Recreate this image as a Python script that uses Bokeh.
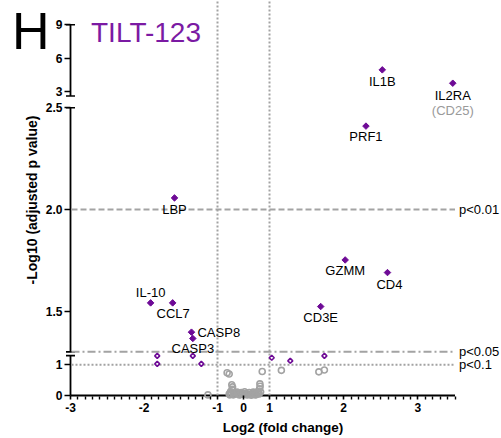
import numpy as np
from bokeh.plotting import figure
from bokeh.models import Range1d, FixedTicker, Label, Div
from bokeh.embed import file_html
from bokeh.resources import INLINE
from bokeh.core.properties import value

# ---------------- data ----------------
sig_genes = ["IL1B", "IL2RA", "PRF1", "LBP", "GZMM", "CD4", "CD3E",
             "IL-10", "CCL7", "CASP8", "CASP3"]
sig_log2fc = [2.52, 3.47, 2.30, -1.585, 2.02, 2.59, 1.69, -1.91, -1.61, -1.354, -1.336]
sig_neglog10p = [4.95, 3.75, 2.41, 2.057, 1.752, 1.69, 1.523, 1.541, 1.541, 1.397, 1.366]
il2ra_alias = "(CD25)"

trend_log2fc = [-1.82, -1.82, -1.336, -1.22, 1.03, 1.28, 1.74]
trend_neglog10p = [1.29, 1.03, 1.29, 1.03, 1.23, 1.13, 1.29]

ns_log2fc = [-1.13, -0.63, -0.55, 0.72, 1.16, 1.665, 1.74,
             -0.55, -0.50, -0.45, -0.42, -0.40, -0.35, -0.28, -0.20, -0.12, -0.05,
             0.02, 0.10, 0.18, 0.26, 0.34, 0.42, 0.50, 0.58, 0.62, 0.63, 0.66,
             -0.52, -0.47, -0.38, -0.32, -0.25, -0.16, -0.08, 0.05, 0.14, 0.22,
             0.30, 0.38, 0.46, 0.54, 0.60, -0.44, 0.64]
ns_neglog10p = [0.02, 0.74, 0.70, 0.78, 0.82, 0.77, 0.83,
                0.05, 0.12, 0.35, 0.28, 0.10, 0.04, 0.08, 0.05, 0.03, 0.06,
                0.04, 0.07, 0.03, 0.05, 0.04, 0.06, 0.03, 0.09, 0.22, 0.38, 0.12,
                0.02, 0.06, 0.02, 0.09, 0.11, 0.02, 0.10, 0.12, 0.02, 0.10,
                0.01, 0.11, 0.02, 0.12, 0.05, 0.20, 0.30]

p_thresholds = [2.0, 1.301, 1.0]
p_threshold_labels = ["p<0.01", "p<0.05", "p<0.1"]
fc_cutoffs = [-1.0, 1.0]

x_ticks = [-3, -2, -1, 0, 1, 2, 3]
x_tick_labels = ["-3", "-2", "-1", "0", "1", "2", "3"]
y_ticks = [0, 1, 1.5, 2.0, 2.5, 3, 6, 9]
y_tick_labels = ["0", "1", "1.5", "2.0", "2.5", "3", "6", "9"]

panel_letter = "H"
title_text = "TILT-123"
x_title = "Log2 (fold change)"
y_title = "-Log10 (adjusted p value)"

# ---------------- segmented axes (layout, page pixels) ----------------
X_KNOTS = [-3.0, -1.0, 1.0, 3.5]
X_PIX = [70.0, 217.0, 269.0, 454.5]
# (value lo, value hi, pixel at lo, pixel at hi) -- pixels measured downwards
Y_SEGS = [(0.0, 1.3, 395.0, 355.1), (1.3, 2.5, 351.4, 107.3), (2.6, 9.0, 95.5, 24.3)]

W, H = 501, 438
FRAME_L, FRAME_B = 64, 399

PURPLE = "#6E0A96"
TITLE_PURPLE = "#7B1AA3"
GRAY = "#a3a3a3"
FONT = "Liberation Sans"


def xv(v):
    v = np.atleast_1d(np.asarray(v, float))
    out = np.interp(v, X_KNOTS, X_PIX)
    sl_lo = (X_PIX[1] - X_PIX[0]) / (X_KNOTS[1] - X_KNOTS[0])
    sl_hi = (X_PIX[-1] - X_PIX[-2]) / (X_KNOTS[-1] - X_KNOTS[-2])
    out = np.where(v < X_KNOTS[0], X_PIX[0] + (v - X_KNOTS[0]) * sl_lo, out)
    out = np.where(v > X_KNOTS[-1], X_PIX[-1] + (v - X_KNOTS[-1]) * sl_hi, out)
    return [float(a) for a in out]


def seg_pix(v, seg):
    lo, hi, plo, phi = seg
    return plo + (v - lo) * (phi - plo) / (hi - lo)


def pick_seg(v):
    if v <= Y_SEGS[0][1]:
        return Y_SEGS[0]
    if v <= (Y_SEGS[1][1] + Y_SEGS[2][0]) / 2:
        return Y_SEGS[1]
    return Y_SEGS[2]


def yv(v):
    arr = np.atleast_1d(np.asarray(v, float))
    return [float(-seg_pix(a, pick_seg(a))) for a in arr]


p = figure(width=W, height=H, x_range=Range1d(FRAME_L, W), y_range=Range1d(-FRAME_B, 0),
           min_border_left=FRAME_L, min_border_right=0, min_border_top=0,
           min_border_bottom=H - FRAME_B, output_backend="svg", toolbar_location=None)
p.outline_line_color = None
p.xgrid.visible = False
p.ygrid.visible = False

# ---- real axes: ticks, tick labels, titles ----
minor = [round(v, 2) for v in np.arange(-2.9, -1.0, 0.1)] + [round(v, 2) for v in np.arange(1.1, 3.51, 0.1)]
minor = [m for m in minor if abs(m - round(m)) > 1e-6]
xt = xv(x_ticks)
p.xaxis.ticker = FixedTicker(ticks=xt, minor_ticks=xv(minor))
p.xaxis.major_label_overrides = {t: lab for t, lab in zip(xt, x_tick_labels)}
p.xaxis.bounds = (xv(-3)[0], xv(3.5)[0])
p.xaxis.axis_line_color = None
p.xaxis.major_tick_in = 4
p.xaxis.major_tick_out = 0
p.xaxis.minor_tick_in = 3
p.xaxis.minor_tick_out = 0
p.xaxis.major_tick_line_width = 1.6
p.xaxis.minor_tick_line_width = 1.4
p.xaxis.major_label_standoff = 3
p.xaxis.major_label_text_font = FONT
p.xaxis.major_label_text_font_style = "bold"
p.xaxis.major_label_text_font_size = "12px"
p.xaxis.major_label_text_color = "black"
p.xaxis.axis_label = x_title
p.xaxis.axis_label_text_font = FONT
p.xaxis.axis_label_text_font_style = "bold"
p.xaxis.axis_label_text_font_size = "13.5px"
p.xaxis.axis_label_text_color = "black"
p.xaxis.axis_label_standoff = 5

yt = yv(y_ticks)
p.yaxis.ticker = FixedTicker(ticks=yt, minor_ticks=[])
p.yaxis.major_label_overrides = {t: lab for t, lab in zip(yt, y_tick_labels)}
p.yaxis.bounds = (yv(0)[0], yv(9)[0])
p.yaxis.axis_line_color = None
p.yaxis.major_tick_in = 6
p.yaxis.major_tick_out = 0
p.yaxis.minor_tick_line_color = None
p.yaxis.major_tick_line_width = 1.6
p.yaxis.major_label_standoff = 2
p.yaxis.major_label_text_font = FONT
p.yaxis.major_label_text_font_style = "bold"
p.yaxis.major_label_text_font_size = "12px"
p.yaxis.major_label_text_color = "black"
p.yaxis.axis_label = y_title
p.yaxis.axis_label_text_font = FONT
p.yaxis.axis_label_text_font_style = "bold"
p.yaxis.axis_label_text_font_size = "14px"
p.yaxis.axis_label_text_color = "black"
p.yaxis.axis_label_standoff = 3

# ---- axis lines (segmented, Prism style) ----
ax_x = xv(-3)[0]
for seg in Y_SEGS:
    lo, hi = seg[0], seg[1]
    p.segment(x0=ax_x, y0=-seg_pix(lo, seg), x1=ax_x, y1=-seg_pix(hi, seg),
              line_color="black", line_width=1.8)
caps = [-seg_pix(Y_SEGS[0][1], Y_SEGS[0]), -seg_pix(Y_SEGS[1][0], Y_SEGS[1]),
        -seg_pix(Y_SEGS[1][1], Y_SEGS[1]), -seg_pix(Y_SEGS[2][0], Y_SEGS[2]),
        -seg_pix(Y_SEGS[2][1], Y_SEGS[2])]
p.scatter(x=[ax_x] * len(caps), y=caps, marker="dash", size=9, line_color="black", line_width=1.6)
p.segment(x0=xv(-3)[0], y0=yv(0)[0], x1=xv(3.5)[0], y1=yv(0)[0], line_color="black", line_width=1.8)

# ---- reference lines ----
dashes = ["6 3", "8 3 2 3", "2 2"]
for th, d in zip(p_thresholds, dashes):
    y0 = yv(th)[0]
    p.segment(x0=xv(-3)[0] + 1, y0=y0, x1=xv(3.5)[0], y1=y0, line_color=GRAY,
              line_width=2, line_dash=d)
p.text(x=[xv(3.5)[0] + 4] * 3, y=yv(p_thresholds), text=p_threshold_labels,
       text_font=value(FONT), text_font_size="13px", text_align="left",
       text_baseline="middle", text_color="black")
for c in fc_cutoffs:
    p.segment(x0=xv(c)[0], y0=yv(0)[0], x1=xv(c)[0], y1=p.y_range.end, line_color=GRAY,
              line_width=2, line_dash="2 2")

# ---- points ----
p.scatter(x=xv(ns_log2fc), y=yv(ns_neglog10p), marker="circle", size=6, fill_alpha=0,
          line_color=GRAY, line_width=1.6)
p.scatter(x=xv(trend_log2fc), y=yv(trend_neglog10p), marker="square", angle=np.pi / 4,
          size=3.5, fill_color="white", line_color=PURPLE, line_width=1.6)
p.scatter(x=xv(sig_log2fc), y=yv(sig_neglog10p), marker="square", angle=np.pi / 4,
          size=4.6, fill_color=PURPLE, line_color=PURPLE, line_width=1)

# ---- point labels ----
LABEL_OFFSETS = {"IL1B": (0, 12), "IL2RA": (0, 12.5), "PRF1": (0, 10.5), "LBP": (0, 12),
                 "GZMM": (0, 11), "CD4": (2, 12), "CD3E": (0, 11), "IL-10": (0, -10.5),
                 "CCL7": (0.5, 11), "CASP8": (6, 0), "CASP3": (0, 10.5)}
lx, ly, lt, la = [], [], [], []
px_, py_ = xv(sig_log2fc), yv(sig_neglog10p)
for g, x0, y0 in zip(sig_genes, px_, py_):
    dx, dy = LABEL_OFFSETS[g]
    lx.append(x0 + dx)
    ly.append(y0 - dy)
    lt.append(g)
    la.append("left" if g == "CASP8" else "center")
p.text(x=lx, y=ly, text=lt, text_font=value(FONT), text_font_size="13px",
       text_align=la, text_baseline="middle", text_color="black")
i2 = sig_genes.index("IL2RA")
p.text(x=[px_[i2]], y=[py_[i2] - 27.5], text=[il2ra_alias], text_font=value(FONT),
       text_font_size="13px", text_align="center", text_baseline="middle", text_color="#9a9a9a")

# ---- title ----
p.add_layout(Label(x=90.5, y=-31.5, text=title_text, text_font=FONT, text_font_size="28px",
                   text_baseline="middle", text_align="left", text_color=TITLE_PURPLE))

# ---- panel letter (outside the plot frame) ----
letter = Div(text=panel_letter, width=45, height=56,
             styles={"position": "absolute", "left": "12px", "top": "5px",
                     "font-family": FONT, "font-size": "52px", "line-height": "52px",
                     "color": "black", "z-index": "5", "margin": "0", "padding": "0"})

open("out.html", "w").write(file_html([p, letter], INLINE))
